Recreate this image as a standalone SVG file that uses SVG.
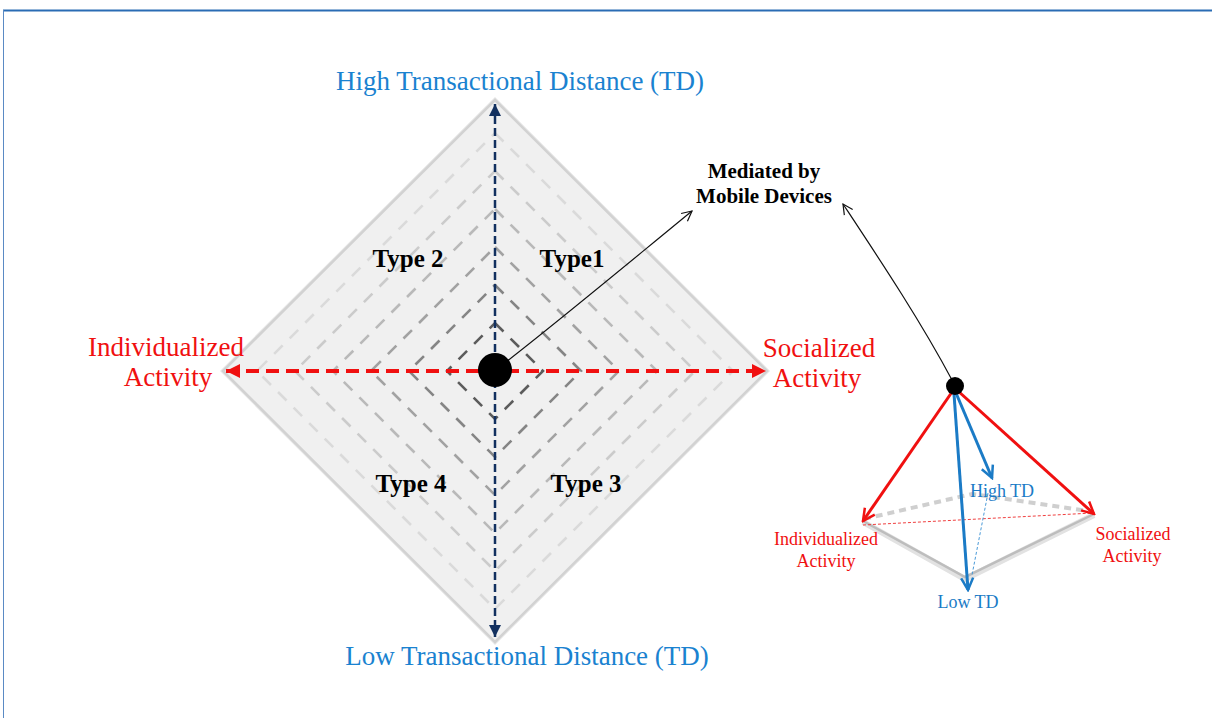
<svg xmlns="http://www.w3.org/2000/svg" width="1212" height="718" viewBox="0 0 1212 718">
<style>
text{font-family:"Liberation Serif","Times New Roman",serif;}
.blue{fill:#1a82d0;}
.red{fill:#f01010;}
.type{font-weight:bold;font-size:25px;fill:#000;}
.ring{fill:none;stroke-width:2.6;stroke-dasharray:12 10;}
.thin{fill:none;stroke:#111;stroke-width:1.2;}
</style>
<defs>
<marker id="ahNavy" markerUnits="userSpaceOnUse" markerWidth="12" markerHeight="12" refX="12" refY="6" orient="auto-start-reverse"><path d="M0,0 L12,6 L0,12 z" fill="#12305f"/></marker>
<marker id="ahRed" markerUnits="userSpaceOnUse" markerWidth="14" markerHeight="14" refX="14" refY="7" orient="auto-start-reverse"><path d="M0,0 L14,7 L0,14 z" fill="#f01010"/></marker>
<marker id="ahOpen" markerUnits="userSpaceOnUse" markerWidth="12" markerHeight="12" refX="11" refY="6" orient="auto"><path d="M1,1 L11,6 L1,11" fill="none" stroke="#111" stroke-width="1.2"/></marker>
<marker id="ahRedOpen" markerUnits="userSpaceOnUse" markerWidth="16" markerHeight="16" refX="14" refY="8" orient="auto"><path d="M2,2 L14,8 L2,14" fill="none" stroke="#f01010" stroke-width="2.5"/></marker>
<marker id="ahBlueOpen" markerUnits="userSpaceOnUse" markerWidth="16" markerHeight="16" refX="14" refY="8" orient="auto"><path d="M2,2 L14,8 L2,14" fill="none" stroke="#1b7bc6" stroke-width="2.5"/></marker>
</defs>
<rect width="1212" height="718" fill="#fff"/>
<g id="frame">
<line x1="3" y1="10.5" x2="1212" y2="10.5" stroke="#2a6cb4" stroke-width="1.8"/>
<line x1="3.5" y1="10" x2="3.5" y2="718" stroke="#5a8ac4" stroke-width="1"/>
</g>
<g id="diamond">
<polygon points="495,97 770,371 495,645 220,371" fill="#e6e6e6"/>
<polygon points="495,100 767,371 495,642 223,371" fill="#f0f0f0" stroke="#d2d2d2" stroke-width="2.5"/>
<polygon class="ring" stroke="#dadada" points="495,133 733,371 495,609 257,371"/>
<polygon class="ring" stroke="#cbcbcb" points="495,171 695,371 495,571 295,371"/>
<polygon class="ring" stroke="#b9b9b9" points="495,209 657,371 495,533 333,371"/>
<polygon class="ring" stroke="#a2a2a2" points="495,247 619,371 495,495 371,371"/>
<polygon class="ring" stroke="#858585" points="495,285 581,371 495,457 409,371"/>
<polygon class="ring" stroke="#5c5c5c" points="495,323 543,371 495,419 447,371"/>
</g>
<g id="connectors">
<line x1="495" y1="104" x2="495" y2="637" stroke="#12305f" stroke-width="2.5" stroke-dasharray="8 4" marker-start="url(#ahNavy)" marker-end="url(#ahNavy)"/>
<line x1="226" y1="371" x2="766" y2="371" stroke="#f01010" stroke-width="4" stroke-dasharray="13 7" marker-start="url(#ahRed)" marker-end="url(#ahRed)"/>
<path class="thin" d="M506,362 C560,320 620,270 692,211" marker-end="url(#ahOpen)"/>
<path class="thin" d="M952,380 C920,320 880,260 843,204" marker-end="url(#ahOpen)"/>
</g>
<g id="center-dot"><circle cx="495" cy="370" r="17" fill="#000"/></g>
<g id="label-high"><text x="520" y="90" font-size="27" text-anchor="middle" class="blue">High Transactional Distance (TD)</text></g>
<g id="label-low"><text x="527" y="665" font-size="27" text-anchor="middle" class="blue">Low Transactional Distance (TD)</text></g>
<g id="label-individualized"><text font-size="27" text-anchor="middle" class="red"><tspan x="166" y="356">Individualized</tspan><tspan x="168" y="386">Activity</tspan></text></g>
<g id="label-socialized"><text font-size="27" text-anchor="middle" class="red"><tspan x="819" y="357">Socialized</tspan><tspan x="817" y="387">Activity</tspan></text></g>
<g id="type1"><text x="572" y="267" text-anchor="middle" class="type">Type1</text></g>
<g id="type2"><text x="408" y="267" text-anchor="middle" class="type">Type 2</text></g>
<g id="type3"><text x="586" y="492" text-anchor="middle" class="type">Type 3</text></g>
<g id="type4"><text x="411" y="492" text-anchor="middle" class="type">Type 4</text></g>
<g id="mediated"><text font-size="21" font-weight="bold" text-anchor="middle" fill="#000"><tspan x="764" y="178">Mediated by</tspan><tspan x="764" y="203">Mobile Devices</tspan></text></g>
<g id="pyramid">
<polyline points="863,522 965,579 1094,515" fill="none" stroke="#e2e2e2" stroke-width="6"/>
<polyline points="863,521 965,577 1094,514" fill="none" stroke="#bdbdbd" stroke-width="2.5"/>
<polyline points="864,519 972,494 1088,511" fill="none" stroke="#cfcfcf" stroke-width="4" stroke-dasharray="7 5"/>
<line x1="863" y1="525" x2="1093" y2="513" stroke="#f04040" stroke-width="1" stroke-dasharray="3 2"/>
<line x1="988" y1="493" x2="972" y2="575" stroke="#4a9ad8" stroke-width="1" stroke-dasharray="3 2"/>
<line x1="952" y1="392" x2="863" y2="521" stroke="#f01010" stroke-width="3" marker-end="url(#ahRedOpen)"/>
<line x1="958" y1="391" x2="1094" y2="514" stroke="#f01010" stroke-width="3" marker-end="url(#ahRedOpen)"/>
<line x1="956" y1="393" x2="992" y2="478" stroke="#1b7bc6" stroke-width="3" marker-end="url(#ahBlueOpen)"/>
<line x1="954" y1="394" x2="968" y2="590" stroke="#1b7bc6" stroke-width="3" marker-end="url(#ahBlueOpen)"/>
<circle cx="955" cy="386" r="9" fill="#000"/>
<text x="1002" y="497" font-size="18" text-anchor="middle" fill="#1b7bc6">High TD</text>
<text x="968" y="608" font-size="18" text-anchor="middle" fill="#1b7bc6">Low TD</text>
<text font-size="18" text-anchor="middle" fill="#f01010"><tspan x="826" y="545">Individualized</tspan><tspan x="826" y="567">Activity</tspan></text>
<text font-size="18" text-anchor="middle" fill="#f01010"><tspan x="1133" y="540">Socialized</tspan><tspan x="1132" y="562">Activity</tspan></text>
</g>
</svg>
